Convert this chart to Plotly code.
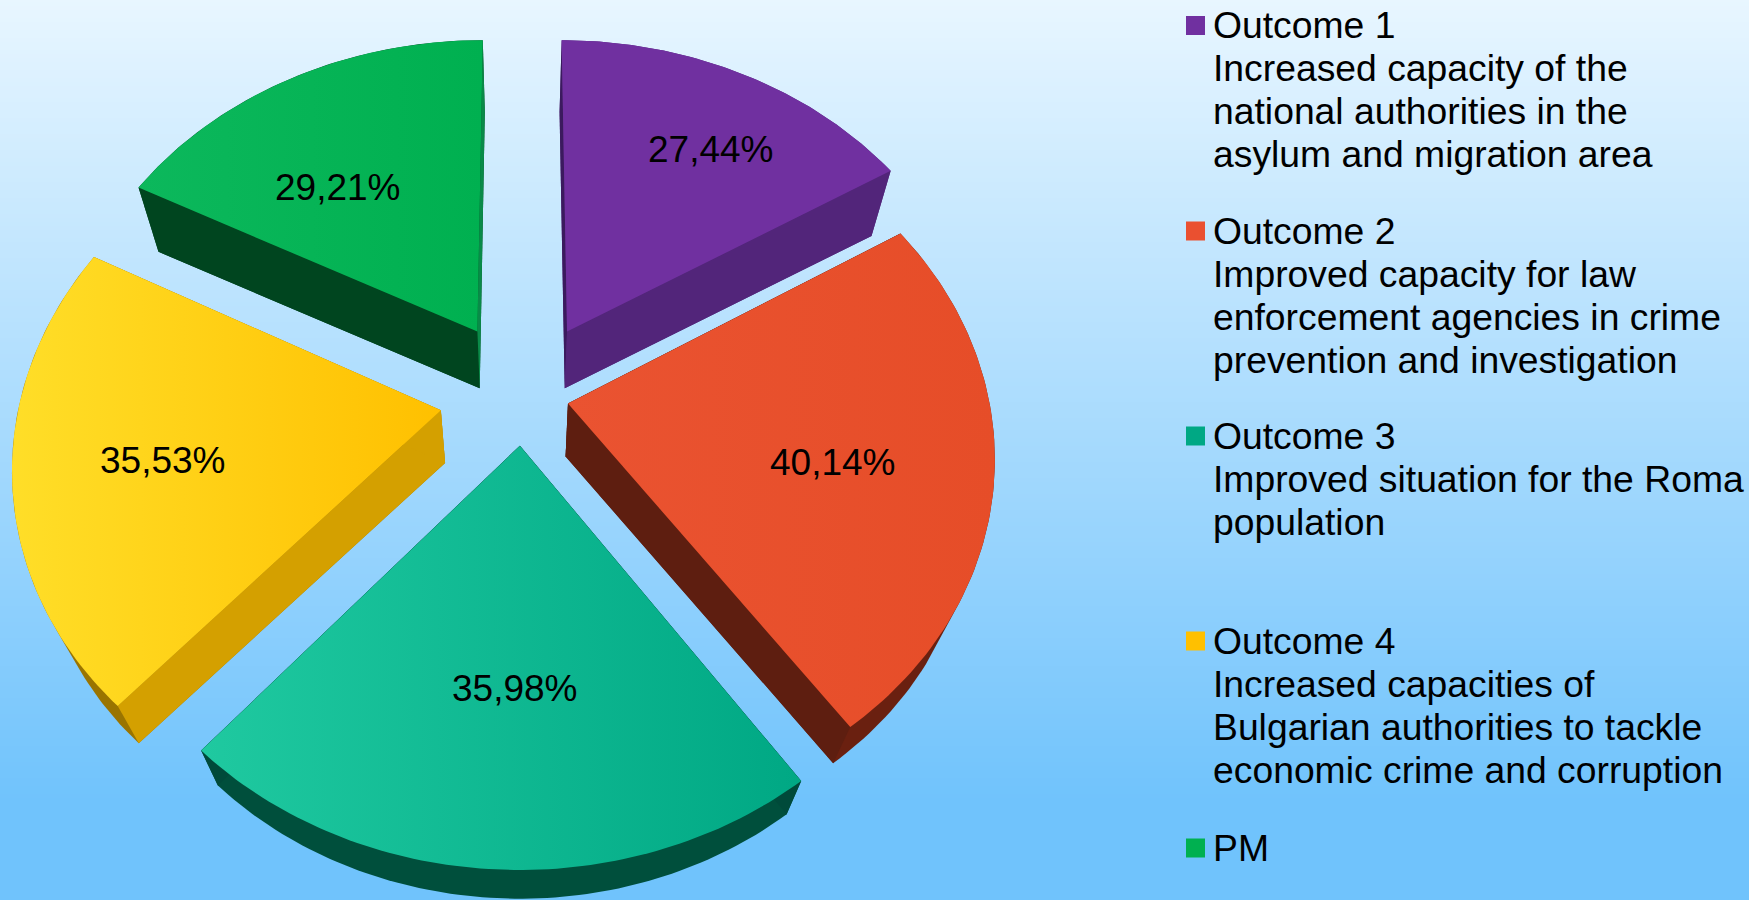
import numpy as np
import plotly.graph_objects as go

# ---- data ----
categories = ["Outcome 1", "Outcome 2", "Outcome 3", "Outcome 4", "PM"]
values = [27.44, 40.14, 35.98, 35.53, 29.21]
value_labels = ["27,44%", "40,14%", "35,98%", "35,53%", "29,21%"]
descriptions = [
    ["Increased capacity of the", "national authorities in the", "asylum and migration area"],
    ["Improved capacity for law", "enforcement agencies in crime", "prevention and investigation"],
    ["Improved situation for the Roma", "population"],
    ["Increased capacities of", "Bulgarian authorities to tackle", "economic crime and corruption"],
    [],
]

# ---- style ----
top_left = ["#7030a0", "#ea5331", "#1fc9a0", "#ffde28", "#0cb85c"]
top_right = ["#7030a0", "#e64d28", "#00a884", "#ffc000", "#00b050"]
legend_col = ["#7030a0", "#ea5030", "#00a884", "#ffc000", "#00b050"]
side_start = ["#3b1a5e", "#5e1e10", "#004a3a", "#d4a000", "#00451f"]
side_end = ["#52257a", "#5e1e10", "#004a3a", "#d4a000", "#0a8a48"]
side_arc = ["#52257a", "#6a2010", "#004f3c", "#9a7400", "#00451f"]

# ---- geometry: a tilted disc in perspective (reference pixels) ----
K = 1749 / 1568
CX, CY = 468 * K, 344 * K
RX, RY = 375 * K, 310 * K
PERSP = 0.14
VX, VY, DEPTH = 468 * K, 1275 * K, 0.052
pull_u = [0.110, 0.109, -0.005, -0.192, -0.109]
pull_v = [-0.154, 0.057, 0.175, 0.076, -0.154]
draw_order = [0, 4, 3, 1, 2]
label_xy = [(637, 134), (747, 415), (462, 617), (146, 413), (303, 168)]
swatch_y = [25.5, 231, 436, 641, 848]
LINE_STEP = 43


def project(u, v):
    s = 1 / (1 - PERSP * v)
    return CX + RX * u * s, CY + RY * v * s


def lower(x, y):
    return x + DEPTH * (VX - x), y + DEPTH * (VY - y)


def hull(xs, ys):
    pts = sorted(set(zip(np.round(xs, 3).tolist(), np.round(ys, 3).tolist())))

    def half(seq):
        out = []
        for p in seq:
            while len(out) > 1 and (out[-1][0] - out[-2][0]) * (p[1] - out[-2][1]) - (out[-1][1] - out[-2][1]) * (p[0] - out[-2][0]) <= 0:
                out.pop()
            out.append(p)
        return out[:-1]

    h = half(pts) + half(pts[::-1])
    return [p[0] for p in h] + [h[0][0]], [p[1] for p in h] + [h[0][1]]


def poly(xs, ys, color=None, gradient=None):
    kw = dict(x=list(xs), y=list(ys), mode="lines", fill="toself",
              line=dict(width=0), hoverinfo="skip", showlegend=False)
    if gradient:
        kw["fillgradient"] = dict(type="horizontal", colorscale=[[0, gradient[0]], [1, gradient[1]]])
    else:
        kw["fillcolor"] = color
    return go.Scatter(**kw)


fig = go.Figure()

# page background gradient
bg_y = np.linspace(0, 900, 226)
fig.add_trace(go.Heatmap(x=[-2, 1751], y=bg_y, z=np.column_stack([bg_y, bg_y]),
                         colorscale=[[0, "#e8f6ff"], [0.89, "#70c3fc"], [1, "#70c3fc"]],
                         showscale=False, hoverinfo="skip"))

total = sum(values)
edges = np.cumsum([0] + values) / total * 2 * np.pi

for i in draw_order:
    th = np.linspace(edges[i], edges[i + 1], 80)
    u = np.concatenate([[0], np.sin(th)]) + pull_u[i]
    v = np.concatenate([[0], -np.cos(th)]) + pull_v[i]
    x, y = project(u, v)
    bx, by = lower(x, y)
    # silhouette of the extruded wedge (outer wall colour)
    hx, hy = hull(np.concatenate([x, bx]), np.concatenate([y, by]))
    fig.add_trace(poly(hx, hy, side_arc[i]))
    # the two radial walls
    fig.add_trace(poly([x[0], x[1], bx[1], bx[0], x[0]], [y[0], y[1], by[1], by[0], y[0]], side_start[i]))
    fig.add_trace(poly([x[0], x[-1], bx[-1], bx[0], x[0]], [y[0], y[-1], by[-1], by[0], y[0]], side_end[i]))
    # top face
    fig.add_trace(poly(np.append(x, x[0]), np.append(y, y[0]), gradient=(top_left[i], top_right[i])))

FONT = dict(family="Liberation Sans", size=37, color="#000000")
LEGEND_FONT = dict(family="Liberation Sans", size=37.3, color="#000000")
annotations = []
shapes = []
for i, name in enumerate(categories):
    lx, ly = label_xy[i]
    annotations.append(dict(x=lx * K, y=ly * K, text=value_labels[i], showarrow=False,
                            xanchor="center", yanchor="middle", font=FONT))
    for j, line in enumerate([name] + descriptions[i]):
        annotations.append(dict(x=1210.5, y=swatch_y[i] + j * LINE_STEP - 0.5, text=line, showarrow=False,
                                align="left", xanchor="left", yanchor="middle", font=LEGEND_FONT))
    shapes.append(dict(type="rect", x0=1186, x1=1205, y0=swatch_y[i] - 9.5, y1=swatch_y[i] + 9.5,
                       fillcolor=legend_col[i], line=dict(width=0), layer="above"))

fig.update_layout(
    width=1749, height=900, margin=dict(l=0, r=0, t=0, b=0),
    paper_bgcolor="#70c3fc", plot_bgcolor="rgba(0,0,0,0)",
    xaxis=dict(range=[0, 1749], visible=False, fixedrange=True),
    yaxis=dict(range=[900, 0], visible=False, fixedrange=True),
    annotations=annotations, shapes=shapes, showlegend=False,
)

fig.write_html("out.html", config={"displayModeBar": False},
               post_script="document.body.style.margin='0';document.documentElement.style.overflow='hidden';")
